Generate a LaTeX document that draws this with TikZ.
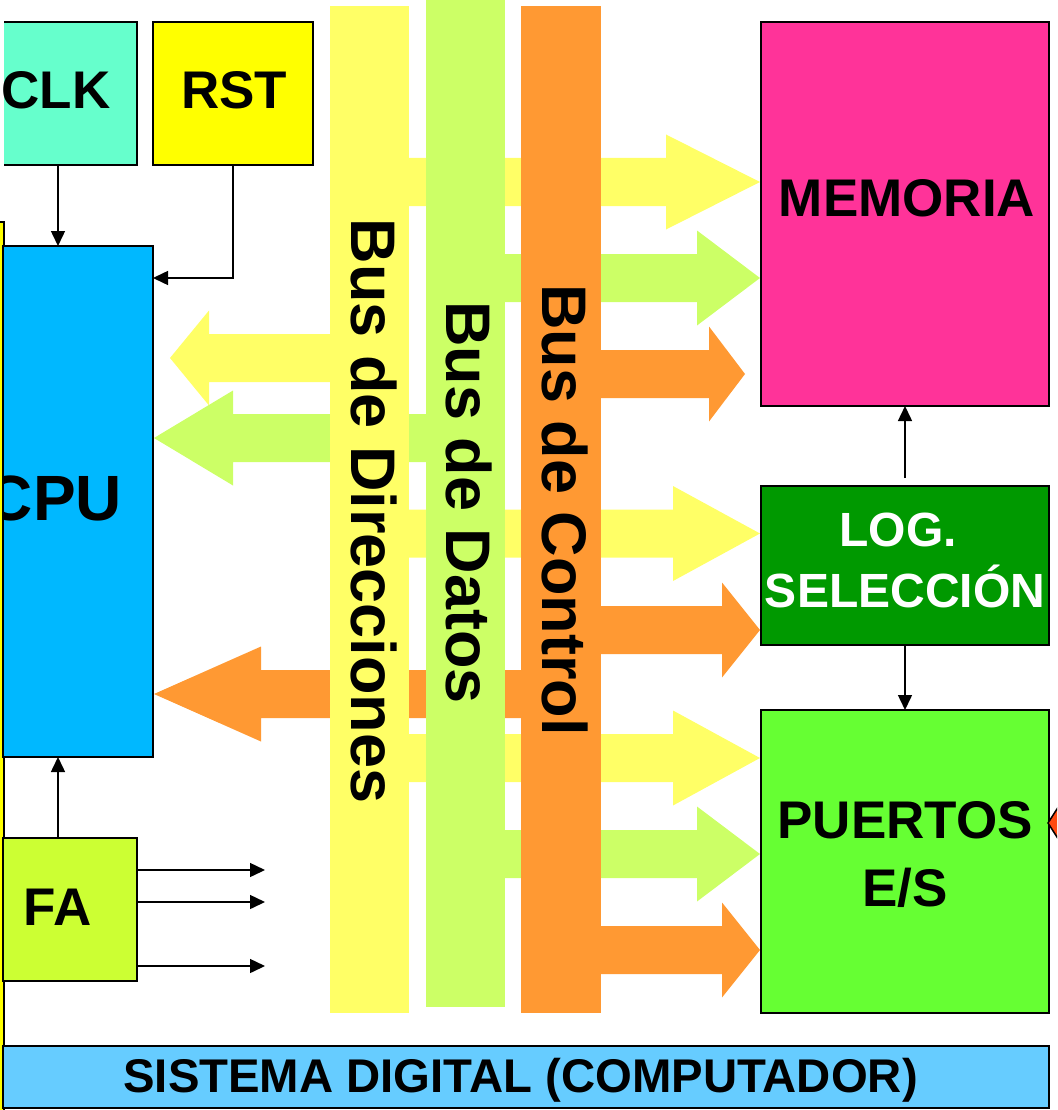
\documentclass[tikz,border=0pt]{standalone}
\usepackage{fontspec}
\setmainfont{Liberation Sans}
\usetikzlibrary{arrows.meta}
\definecolor{cclk}{HTML}{66FFCC}
\definecolor{crst}{HTML}{FFFF00}
\definecolor{ccpu}{HTML}{00B8FF}
\definecolor{cfa}{HTML}{CCFF33}
\definecolor{cmem}{HTML}{FF3399}
\definecolor{clog}{HTML}{009900}
\definecolor{cpue}{HTML}{66FF33}
\definecolor{csis}{HTML}{66CCFF}
\definecolor{cbusA}{HTML}{FFFF66}
\definecolor{cbusD}{HTML}{CCFF66}
\definecolor{cbusC}{HTML}{FF9933}
\definecolor{cred}{HTML}{FF4A10}
\newcommand{\fatarrow}[5]{%
  \fill[#5] (#1,#4-24) -- (#2,#4-24) -- (#2,#4-47.5) -- (#3,#4) -- (#2,#4+47.5) -- (#2,#4+24) -- (#1,#4+24) -- cycle;}
\begin{document}
\begin{tikzpicture}[x=1pt,y=-1pt,
  box/.style={draw=black, line width=2pt, inner sep=0pt, outer sep=0pt},
  bus/.style={draw=none, inner sep=0pt, outer sep=0pt},
  lbl/.style={inner sep=0pt, anchor=base, font=\bfseries\fontsize{53}{53}\selectfont},
  buslbl/.style={inner sep=0pt, rotate=-90, font=\bfseries\fontsize{63}{63}\selectfont},
  conn/.style={line width=1.5pt, -{Triangle[length=15pt,width=14pt]}}]
\useasboundingbox (0,0) rectangle (1057,1110);
\clip (0,0) rectangle (1057,1110);

% left strip (partly visible box)
\node[box, fill=crst, minimum width=20pt, minimum height=900pt] (strip) at (-6.5,672) {};

% fat bus arrows (behind the buses)
\fatarrow{370}{666}{760}{182}{cbusA}
\fatarrow{465}{697}{760}{278}{cbusD}
\fatarrow{561}{709}{745}{374}{cbusC}
\fatarrow{370}{673}{760}{533.5}{cbusA}
\fatarrow{561}{722}{760}{630}{cbusC}
\fatarrow{370}{673}{760}{758}{cbusA}
\fatarrow{465}{697}{760}{854}{cbusD}
\fatarrow{561}{722}{760}{950}{cbusC}
\fatarrow{370}{209}{170}{358}{cbusA}
\fatarrow{465}{233}{154}{438}{cbusD}
\fatarrow{561}{261}{154}{694}{cbusC}

% buses
\node[bus, fill=cbusA, minimum width=79pt, minimum height=1007pt] (busA) at (369.5,509.5) {};
\node[bus, fill=cbusD, minimum width=79pt, minimum height=1007pt] (busD) at (465.5,503.5) {};
\node[bus, fill=cbusC, minimum width=80pt, minimum height=1007pt] (busC) at (561,509.5) {};
\node[buslbl] (tA) at (374,511) {Bus de Direcciones};
\node[buslbl] (tD) at (469,502.5) {Bus de Datos};
\node[buslbl] (tC) at (565,510) {Bus de Control};

% boxes
\node[bus, fill=cclk, minimum width=133pt, minimum height=143pt] (clk) at (70.5,93.5) {};
\draw[line width=2pt] (clk.north west) -- (clk.north east) -- (clk.south east) -- (clk.south west);
\node[box, fill=crst, minimum width=160pt, minimum height=143pt] (rst) at (233,93.5) {};
\node[box, fill=ccpu, minimum width=150pt, minimum height=511pt] (cpu) at (78,501.5) {};
\node[box, fill=cfa, minimum width=134pt, minimum height=143pt] (fa) at (70,909.5) {};
\node[box, fill=cmem, minimum width=288pt, minimum height=384pt] (mem) at (905,214) {};
\node[box, fill=clog, minimum width=288pt, minimum height=159pt] (log) at (905,565.5) {};
\node[box, fill=cpue, minimum width=288pt, minimum height=303pt] (pue) at (905,861.5) {};
\node[box, fill=csis, minimum width=1046pt, minimum height=62pt] (sis) at (526,1077) {};

% red arrow tip at right edge
\filldraw[fill=cred, draw=black, line width=1.5pt] (1048,823) -- (1064,798) -- (1064,848) -- cycle;

% texts
\node[lbl] (tclk) at (56,109) {CLK};
\node[lbl] (trst) at (234,109) {RST};
\begin{scope}
\clip (cpu.north west) rectangle (cpu.south east);
\node[lbl, font=\bfseries\fontsize{64}{64}\selectfont] (tcpu) at (54.5,520) {CPU};
\end{scope}
\node[lbl] (tfa) at (57.5,925) {FA};
\node[lbl] (tmem) at (907,216) {MEMORIA};
\node[lbl, text=white, font=\bfseries\fontsize{48}{48}\selectfont] (tlog1) at (898,546) {LOG.};
\node[lbl, text=white, font=\bfseries\fontsize{48}{48}\selectfont] (tlog2) at (905,607) {SELECCIÓN};
\node[lbl] (tpue1) at (905,838) {PUERTOS};
\node[lbl] (tpue2) at (905,906) {E/S};
\node[lbl, font=\bfseries\fontsize{47.3}{47.3}\selectfont] (tsis) at (520.5,1092) {SISTEMA DIGITAL (COMPUTADOR)};

% thin connectors
\draw[conn] ([xshift=-12.5pt]clk.south) -- ([xshift=-12.5pt]clk.south |- cpu.north);
\draw[conn] (rst.south) |- ([yshift=-32pt]cpu.north east);
\draw[conn] ([xshift=-12pt]fa.north) -- ([xshift=-12pt]fa.north |- cpu.south);
\coordinate (fo1) at (265,870);
\coordinate (fo2) at (265,902);
\coordinate (fo3) at (265,966);
\draw[conn] (fa.east |- fo1) -- (fo1);
\draw[conn] (fa.east |- fo2) -- (fo2);
\draw[conn] (fa.east |- fo3) -- (fo3);
\draw[conn] ([yshift=8pt]log.north) -- (mem.south);
\draw[conn] (log.south) -- (pue.north);
\end{tikzpicture}
\end{document}
